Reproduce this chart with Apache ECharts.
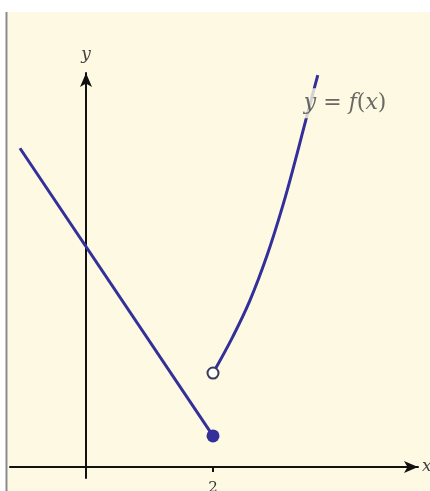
<!DOCTYPE html>
<html>
<head>
<meta charset="utf-8">
<script src="https://cdn.jsdelivr.net/npm/echarts@6/dist/echarts.min.js"></script>
<style>
  html, body { margin: 0; padding: 0; background: #ffffff; }
  #chart { width: 430px; height: 491px; }
</style>
</head>
<body>
<div id="chart"></div>
<script>
// 数据：左侧直线（含实心端点）
const leftLine = [[-1.04, 5.02], [2, 0.49]];
const closedDot = [[2, 0.49]];
// 数据：右侧曲线（起点为空心圆）
const rightCurve = [[2.0, 1.48], [2.31, 2.05], [2.58, 2.62], [2.85, 3.33], [3.10, 4.12], [3.32, 4.92], [3.46, 5.46], [3.65, 6.17]];
const openDot = [[2.0, 1.48]];
// 标注与刻度
const curveLabelPos = [[4.08, 5.73]];
const xTicks = [2];

const chart = echarts.init(document.getElementById('chart'));
const ink = '#33309a';
const serif = 'DejaVu Serif';

chart.setOption({
  animation: false,
  backgroundColor: '#ffffff',
  graphic: [
    { type: 'rect', z: -10, shape: { x: 8, y: 12, width: 422, height: 479 }, style: { fill: '#fdf9e2' } },
    { type: 'line', z: -9, shape: { x1: 6.5, y1: 12, x2: 6.5, y2: 491 }, style: { stroke: '#8a8a8a', lineWidth: 2 } }
  ],
  grid: { left: 10, right: 12, top: 73, bottom: 13, outerBoundsMode: 'none', containLabel: false },
  xAxis: {
    type: 'value',
    min: -1.197, max: 5.228,
    name: 'x',
    nameLocation: 'end',
    nameGap: 4,
    nameTextStyle: { fontFamily: serif, fontStyle: 'italic', fontSize: 17, color: '#444', verticalAlign: 'middle' },
    axisLine: { onZero: true, symbol: ['none', 'arrow'], symbolSize: [9, 14], lineStyle: { color: '#111', width: 2 } },
    axisTick: { show: true, customValues: xTicks, length: 5, inside: false, lineStyle: { color: '#111', width: 2 } },
    axisLabel: { customValues: xTicks, fontFamily: serif, fontSize: 15, color: '#333', margin: 3 },
    splitLine: { show: false }
  },
  yAxis: {
    type: 'value',
    min: -0.173, max: 6.205,
    name: 'y',
    nameLocation: 'end',
    nameGap: 10,
    nameTextStyle: { fontFamily: serif, fontStyle: 'italic', fontSize: 17, color: '#444' },
    axisLine: { onZero: true, symbol: ['none', 'arrow'], symbolSize: [9, 14], lineStyle: { color: '#111', width: 2 } },
    axisTick: { show: false },
    axisLabel: { show: false },
    splitLine: { show: false }
  },
  series: [
    {
      type: 'line', data: leftLine, symbol: 'none', z: 3,
      lineStyle: { color: ink, width: 3 }
    },
    {
      type: 'line', data: rightCurve, symbol: 'none', smooth: 0.4, z: 3,
      lineStyle: { color: ink, width: 3 }
    },
    {
      type: 'scatter', data: closedDot, symbol: 'circle', symbolSize: 13, z: 5,
      itemStyle: { color: ink, opacity: 1 }
    },
    {
      type: 'scatter', data: openDot, symbol: 'circle', symbolSize: 11, z: 5,
      itemStyle: { color: '#ffffff', borderColor: '#3a3a5a', borderWidth: 2, opacity: 1 }
    },
    {
      type: 'scatter', data: curveLabelPos, symbolSize: 0, z: 10, silent: true,
      label: {
        show: true, position: 'inside',
        formatter: '{i|y} = {i|f}({i|x})',
        fontFamily: serif, fontSize: 22, color: '#444',
        backgroundColor: '#fdf9e2', padding: [4, 1],
        rich: { i: { fontFamily: serif, fontStyle: 'italic', fontSize: 22, color: '#444' } }
      }
    }
  ]
});
</script>
</body>
</html>
